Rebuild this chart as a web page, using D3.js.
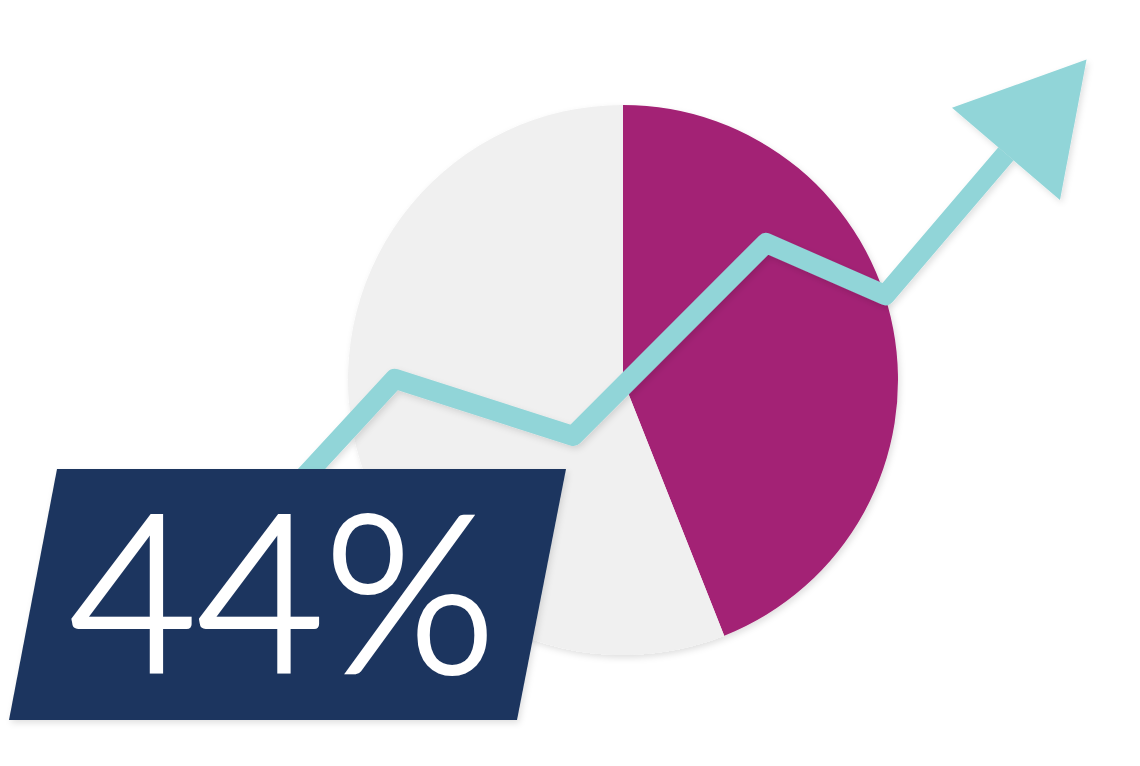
<!DOCTYPE html>
<html>
<head>
<meta charset="utf-8">
<script src="https://cdn.jsdelivr.net/npm/d3@7"></script>
<style>
  html, body { margin: 0; padding: 0; background: #fff; }
  svg { display: block; }
</style>
</head>
<body>
<div id="chart"></div>
<script>
// share shown in the pie (highlighted slice first, rest after)
var pieLabels = ["share", "rest"];
var pieValues = [44, 56];
var pieColors = ["#A32174", "#F0F0F0"];

// trend line, in arbitrary units (x: step, y: level)
var trendX = [0.25, 1.81, 4.04, 6.45, 7.94, 9.45];
var trendY = [1.38, 3.84, 2.80, 6.31, 5.36, 7.93];

// big label
var labelText = "44%";

const width = 1140, height = 766;

const svg = d3.select("#chart").append("svg")
    .attr("width", width)
    .attr("height", height);

// soft drop shadow used by all shapes
var defs = svg.append("defs");
var shadow = defs.append("filter")
    .attr("id", "shadow")
    .attr("x", "-20%").attr("y", "-20%")
    .attr("width", "140%").attr("height", "140%");
shadow.append("feDropShadow")
    .attr("dx", 2).attr("dy", 3)
    .attr("stdDeviation", 3)
    .attr("flood-color", "#000")
    .attr("flood-opacity", 0.12);

// pie
var cx = 623, cy = 380, radius = 275;

var pie = d3.pie().sort(null).value(function(d){ return d; });
var arc = d3.arc().innerRadius(0).outerRadius(radius);

svg.append("g")
    .attr("transform", "translate(" + cx + "," + cy + ")")
    .attr("filter", "url(#shadow)")
    .selectAll("path")
    .data(pie(pieValues))
    .enter()
    .append("path")
    .attr("d", arc)
    .attr("fill", function(d, i){ return pieColors[i]; });

// trend line with arrow head
var x = d3.scaleLinear().domain([0, 10]).range([250, 1050]);
var y = d3.scaleLinear().domain([0, 10]).range([590, 40]);

var pts = trendX.map(function(v, i){ return [x(v), y(trendY[i])]; });

var line = d3.line();

var trend = svg.append("g").attr("filter", "url(#shadow)");

trend.append("path")
    .attr("d", line(pts))
    .attr("fill", "none")
    .attr("stroke", "#91D5D8")
    .attr("stroke-width", 20)
    .attr("stroke-linejoin", "round");

// arrow head placed along the last segment direction
var last = pts[pts.length - 1], prev = pts[pts.length - 2];
var ang = Math.atan2(last[1] - prev[1], last[0] - prev[0]);
var headLen = 124, headHalf = 71;
var tip = [last[0] + headLen * Math.cos(ang), last[1] + headLen * Math.sin(ang)];
var w1 = [last[0] + headHalf * Math.cos(ang - Math.PI/2), last[1] + headHalf * Math.sin(ang - Math.PI/2)];
var w2 = [last[0] + headHalf * Math.cos(ang + Math.PI/2), last[1] + headHalf * Math.sin(ang + Math.PI/2)];

trend.append("path")
    .attr("d", "M" + tip + "L" + w1 + "L" + w2 + "Z")
    .attr("fill", "#91D5D8");

// label box
var box = svg.append("g");

box.append("path")
    .attr("d", "M57,469L566,469L517,720L9,720Z")
    .attr("fill", "#1D365E")
    .attr("filter", "url(#shadow)");

box.append("text")
    .attr("x", 69)
    .attr("y", 672)
    .attr("fill", "#fff")
    .attr("stroke", "#fff")
    .attr("stroke-width", 4)
    .style("font-family", "Lato, 'Open Sans', sans-serif")
    .style("font-weight", 300)
    .style("font-size", "220px")
    .text(labelText);
</script>
</body>
</html>
